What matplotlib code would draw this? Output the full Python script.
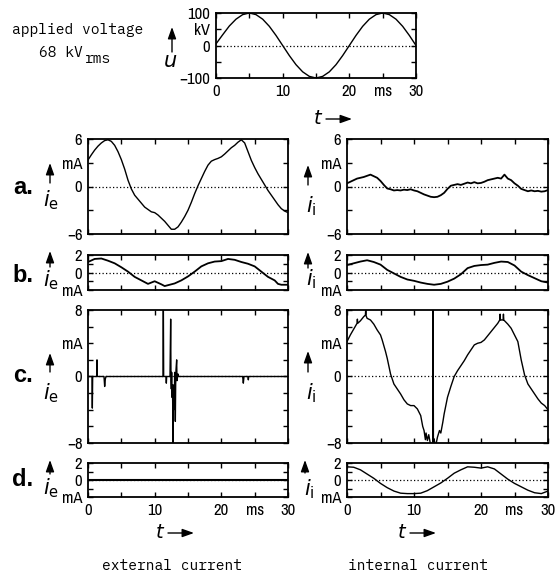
import matplotlib
matplotlib.use("Agg")
import matplotlib.pyplot as plt
import matplotlib.patches as mpatches

# ---------------- data ----------------
t_u = list(range(0, 31))
u_kv = [5, 33, 60, 81, 95, 100, 95, 81, 59, 31, 0, -31, -59, -81, -95, -100,
        -95, -81, -59, -31, 0, 31, 59, 81, 95, 100, 95, 81, 59, 31, 0]

t_a_e = [0, 0.5, 1, 1.5, 2, 2.5, 3, 3.5, 4, 4.5, 5, 5.5, 6, 6.5, 7, 7.5, 8, 8.5, 9, 9.5,
         10, 10.5, 11, 11.5, 12, 12.5, 13, 13.5, 14, 14.5, 15, 15.5, 16, 16.5, 17, 17.5,
         18, 18.5, 19, 19.5, 20, 20.5, 21, 21.5, 22, 22.5, 23, 23.5, 24, 24.5, 25, 25.5,
         26, 26.5, 27, 27.5, 28, 28.5, 29, 29.5, 30]
i_a_e = [3.35, 4.0, 4.6, 5.1, 5.5, 5.8, 5.9, 5.7, 5.2, 4.4, 3.4, 2.2, 0.8, -0.3, -1.1,
         -1.6, -2.1, -2.6, -2.9, -3.2, -3.3, -3.6, -4.0, -4.4, -4.9, -5.4, -5.4, -5.1,
         -4.5, -3.8, -3.0, -2.0, -0.9, 0.1, 1.0, 1.9, 2.7, 3.2, 3.4, 3.55, 3.75, 4.1,
         4.5, 4.9, 5.2, 5.6, 5.9, 5.5, 4.4, 3.3, 2.4, 1.6, 0.9, 0.2, -0.5, -1.1, -1.7,
         -2.3, -2.8, -3.1, -3.3]

t_a_i = [0, 0.5, 1, 1.5, 2, 2.5, 3, 3.5, 4, 4.5, 5, 5.5, 6, 6.5, 7, 7.5, 8, 8.5, 9, 9.5,
         10, 10.5, 11, 11.5, 12, 12.5, 13, 13.5, 14, 14.5, 15, 15.5, 16, 16.5, 17, 17.5,
         18, 18.5, 19, 19.5, 20, 20.5, 21, 21.5, 22, 22.5, 23, 23.5, 24, 24.5, 25, 25.5,
         26, 26.5, 27, 27.5, 28, 28.5, 29, 29.5, 30]
i_a_i = [0.4, 0.6, 0.8, 1.0, 1.1, 1.2, 1.35, 1.5, 1.3, 1.1, 0.7, 0.2, -0.25, -0.35,
         -0.5, -0.45, -0.5, -0.4, -0.45, -0.35, -0.5, -0.6, -0.8, -1.0, -1.15, -1.3,
         -1.35, -1.3, -1.1, -0.8, -0.3, 0.1, 0.2, 0.3, 0.2, 0.35, 0.5, 0.4, 0.55, 0.4,
         0.45, 0.6, 0.8, 0.9, 1.0, 1.1, 1.0, 1.5, 1.0, 0.8, 0.4, 0.1, -0.3, -0.45, -0.6,
         -0.5, -0.6, -0.55, -0.65, -0.6, -0.45]

t_b_e = [0, 1, 2, 3, 4, 5, 6, 7, 8, 9, 10, 11, 11.5, 12, 13, 14, 15, 16, 17, 18, 19, 20,
         21, 22, 23, 24, 25, 26, 27, 28, 28.5, 29, 30]
i_b_e = [1.2, 1.55, 1.6, 1.35, 1.05, 0.6, 0.1, -0.5, -0.9, -1.3, -1.0, -1.35, -1.55,
         -1.45, -1.25, -0.9, -0.45, 0.1, 0.7, 1.05, 1.25, 1.3, 1.55, 1.45, 1.2, 1.0, 0.7,
         0.1, -0.5, -0.9, -1.3, -1.4, -1.4]

t_b_i = list(range(0, 31))
i_b_i = [0.85, 1.05, 1.25, 1.4, 1.2, 0.9, 0.3, -0.1, -0.5, -0.8, -0.95, -1.15, -1.3,
         -1.4, -1.3, -1.05, -0.7, -0.2, 0.5, 0.75, 0.85, 0.9, 1.1, 1.25, 1.2, 0.8, 0.1,
         -0.3, -0.65, -1.0, -1.15]

t_c_e = [0, 0.6, 0.65, 0.7, 1.3, 1.35, 1.4, 2.4, 2.5, 2.6, 2.7, 11.25, 11.3, 11.35,
         11.7, 11.75, 11.8, 12.3, 12.4, 12.45, 12.5, 12.55, 12.6, 12.65, 12.7, 12.75,
         12.8, 12.85, 12.9, 12.95, 13.0, 13.05, 13.1, 13.15, 13.2, 13.3, 13.35, 13.5,
         13.6, 23.2, 23.3, 23.4, 24.0, 24.05, 24.1, 30]
i_c_e = [0, 0, -3.8, 0, 0, 2.0, 0, 0, -1.2, -0.3, 0, 0, 9.0, 0, 0, -0.8, 0, 0, 6.9,
         -0.5, -1.5, 0.5, -2.5, -1.0, -3.0, -9.0, -2.0, -4.0, -1.0, -3.0, 0.5, -2.0,
         -5.4, -1.0, 0.8, 2.0, -0.5, 0.3, 0, 0, -0.8, 0, 0, -0.4, 0, 0]

t_c_i = [0, 0.5, 1, 1.5, 1.55, 1.6, 2, 2.5, 2.75, 2.8, 2.85, 3, 3.5, 4, 4.5, 5, 5.25,
         5.75, 6, 6.5, 7, 7.5, 8, 8.5, 9, 9.5, 10, 10.5, 11, 11.3, 11.5, 11.7, 11.8, 12,
         12.2, 12.4, 12.6, 12.8, 12.85, 12.9, 13.0, 13.2, 13.5, 13.8, 14, 14.3, 14.5,
         15, 15.5, 16, 16.5, 17, 17.5, 18, 18.5, 19, 19.5, 20, 20.5, 21, 21.5, 22, 22.5,
         22.8, 22.85, 22.9, 23, 23.3, 23.35, 23.4, 24, 24.5, 25, 25.5, 26, 26.5, 27,
         27.5, 28, 28.5, 29, 29.5, 30]
i_c_i = [4.2, 5.0, 5.7, 6.4, 6.9, 6.4, 6.7, 7.2, 7.4, 8.2, 7.3, 7.0, 6.8, 6.3, 5.6,
         5.0, 4.4, 3.0, 2.2, 0.3, -0.9, -1.5, -2.1, -2.8, -3.3, -3.5, -3.5, -3.9, -4.7,
         -6.0, -6.5, -7.6, -6.8, -7.7, -7.0, -7.9, -8.5, -7.8, 8.5, -8.5, -7.5, -8.5,
         -7.3, -6.5, -6.8, -5.5, -4.5, -2.5, -1.2, 0.0, 0.7, 1.3, 1.9, 2.6, 3.2, 3.8,
         4.0, 4.1, 4.4, 4.9, 5.4, 5.9, 6.4, 6.8, 7.5, 6.8, 6.8, 6.8, 7.5, 6.8, 6.3, 5.8,
         5.0, 4.2, 2.0, 0.2, -0.9, -1.5, -2.1, -2.7, -3.2, -3.5, -4.0]

t_d_e = [0, 30]
i_d_e = [0, 0]

t_d_i = list(range(0, 31))
i_d_i = [1.55, 1.5, 1.2, 0.7, 0.2, -0.4, -0.9, -1.3, -1.55, -1.6, -1.6, -1.55, -1.25,
         -0.8, -0.35, 0.2, 0.8, 1.2, 1.55, 1.5, 1.4, 1.55, 1.3, 0.7, 0.1, -0.4, -0.8,
         -1.2, -1.5, -1.6, -1.3]

x_ticks = [0, 5, 10, 15, 20, 25, 30]
x_ticklabels = ["0", "", "10", "", "20", "ms", "30"]

# ---------------- layout ----------------
W, H = 558, 573
fig = plt.figure(figsize=(W / 100, H / 100), dpi=100)
TICKFONT = dict(family=["Archivo Narrow", "DejaVu Sans"], size=12)


def box(x0, x1, y0, y1):
    return [x0 / W, 1 - y1 / H, (x1 - x0) / W, (y1 - y0) / H]


def P(x, y):
    return (x / W, 1 - y / H)


def make_ax(rect, ylim, yticks, yticklabels, show_x):
    ax = fig.add_axes(rect)
    ax.set_xlim(0, 30)
    ax.set_ylim(*ylim)
    ax.set_xticks(x_ticks)
    ax.set_xticklabels(x_ticklabels if show_x else [""] * len(x_ticks), **TICKFONT)
    ax.set_yticks(yticks)
    ax.set_yticklabels(yticklabels, **TICKFONT)
    ax.tick_params(direction="in", top=True, right=True, length=3.5, width=1.0, pad=4)
    for s in ax.spines.values():
        s.set_linewidth(1.3)
    ax.axhline(0, color="k", lw=0.9, ls=(0, (1, 1.8)), zorder=1)
    return ax


ax_u = make_ax(box(216, 416, 13, 78), (-100, 100), [-100, -50, 0, 50, 100],
               ["\u2212100", "", "0", "kV", "100"], True)
ax_u.plot(t_u, u_kv, color="k", lw=1.0)

LX = (88, 288)
RX = (347, 548)
rows = {
    "a": (139, 234, (-6, 6), [-6, -3, 0, 3, 6], ["\u22126", "", "0", "mA", "6"]),
    "b": (255, 290, (-2, 2), [-2, -1, 0, 1, 2], ["mA", "", "0", "", "2"]),
    "c": (310, 443, (-8, 8), [-8, -6, -4, -2, 0, 2, 4, 6, 8],
          ["\u22128", "", "", "", "0", "", "mA", "", "8"]),
    "d": (463, 497, (-2, 2), [-2, -1, 0, 1, 2], ["mA", "", "0", "", "2"]),
}
series = {
    "a": ((t_a_e, i_a_e, 1.0), (t_a_i, i_a_i, 1.3)),
    "b": ((t_b_e, i_b_e, 1.3), (t_b_i, i_b_i, 1.3)),
    "c": ((t_c_e, i_c_e, 1.0), (t_c_i, i_c_i, 1.0)),
    "d": ((t_d_e, i_d_e, 1.5), (t_d_i, i_d_i, 1.0)),
}
for key, (y0, y1, ylim, yt, ytl) in rows.items():
    show = key == "d"
    (te, ie, lwe), (ti, ii, lwi) = series[key]
    axl = make_ax(box(LX[0], LX[1], y0, y1), ylim, yt, ytl, show)
    axl.plot(te, ie, color="k", lw=lwe)
    axr = make_ax(box(RX[0], RX[1], y0, y1), ylim, yt, ytl, show)
    axr.plot(ti, ii, color="k", lw=lwi)


# ---------------- annotations ----------------
def arrow(p0, p1):
    fig.add_artist(mpatches.FancyArrowPatch(
        P(*p0), P(*p1), transform=fig.transFigure, shrinkA=0, shrinkB=0,
        arrowstyle="-|>,head_length=0.7,head_width=0.25", mutation_scale=10,
        lw=1.0, color="k"))


MONO = dict(family=["IBM Plex Mono", "DejaVu Sans Mono"], size=10.5)
fig.text(*P(78, 30), "applied voltage", ha="center", va="center", **MONO)
fig.text(*P(39, 57), "68 kV", ha="left", va="baseline", **MONO)
fig.text(*P(85, 63), "rms", ha="left", va="baseline", **MONO)

arrow((172, 52), (172, 27))
fig.text(*P(170, 61), r"$u$", ha="center", va="center", size=15)

# t arrows
for tx, ty in [(318, 118), (160, 532), (402, 532)]:
    fig.text(*P(tx, ty), r"$t$", ha="center", va="center", size=14)
    arrow((tx + 8, ty + 1), (tx + 34, ty + 1))

# row letters
LET = dict(family=["Liberation Sans", "DejaVu Sans"], size=17, weight="bold")
for letter, y in [("a.", 187), ("b.", 275), ("c.", 375), ("d.", 480)]:
    fig.text(*P(23, y), letter, ha="center", va="center", **LET)

# current labels: (arrow x, arrow bottom, arrow top, label x, label y)
left_labels = [(50, 183, 163, 51, 200), (50, 267, 251, 51, 280),
               (50, 372, 353, 51, 393), (50, 474, 460, 51, 488)]
right_labels = [(308, 185, 165, 311, 206), (308, 268, 252, 311, 279),
                (308, 372, 351, 311, 393), (305, 473, 460, 309, 489)]
for ax_, yb, yt_, lx, ly in left_labels:
    arrow((ax_, yb), (ax_, yt_))
    fig.text(*P(lx, ly), r"$i_{\mathrm{e}}$", ha="center", va="center", size=15)
for ax_, yb, yt_, lx, ly in right_labels:
    arrow((ax_, yb), (ax_, yt_))
    fig.text(*P(lx, ly), r"$i_{\mathrm{i}}$", ha="center", va="center", size=15)

fig.text(*P(172, 566), "external current", ha="center", va="center", **MONO)
fig.text(*P(418, 566), "internal current", ha="center", va="center", **MONO)

fig.savefig("out.png", dpi=100)
